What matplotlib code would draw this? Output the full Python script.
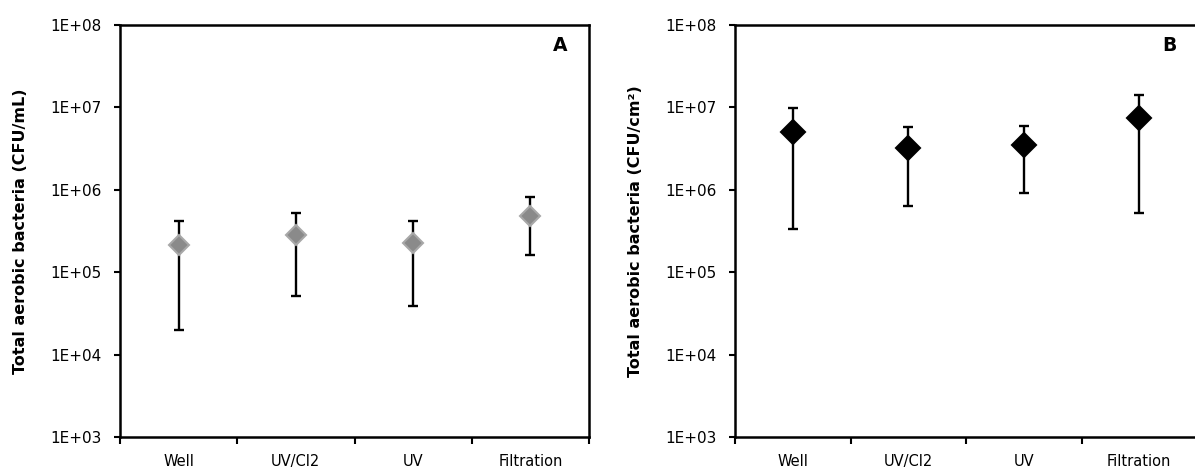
import matplotlib
matplotlib.use("Agg")
import matplotlib.pyplot as plt
import numpy as np

categories = ["Well", "UV/Cl2", "UV", "Filtration"]

# Panel A (water, CFU/mL)
a_mean = [2.16e5, 2.86e5, 2.24e5, 4.84e5]
a_upper = [4.2e5, 5.3e5, 4.2e5, 8.07e5]
a_lower = [2.0e4, 5.1e4, 3.85e4, 1.61e5]

# Panel B (surface, CFU/cm2)
b_mean = [4.99e6, 3.23e6, 3.45e6, 7.48e6]
b_upper = [9.78e6, 5.78e6, 5.94e6, 1.43e7]
b_lower = [3.37e5, 6.43e5, 9.05e5, 5.25e5]

yticks = [1e3, 1e4, 1e5, 1e6, 1e7, 1e8]
ytick_labels = ["1E+03", "1E+04", "1E+05", "1E+06", "1E+07", "1E+08"]

plt.rcParams['font.family'] = ['DejaVu Sans']

fig = plt.figure(figsize=(11.95, 4.68), dpi=100)
axA = fig.add_axes([120/1195, 1-437/468, (589-120)/1195, (437-25)/468])
axB = fig.add_axes([735/1195, 1-437/468, (1197-735)/1195, (437-25)/468])

def draw(ax, mean, upper, lower, mfc, mec, ylabel, letter, ms):
    x = np.arange(len(categories)) + 0.5
    mean = np.array(mean); upper = np.array(upper); lower = np.array(lower)
    yerr = np.vstack([mean - lower, upper - mean])
    ax.errorbar(x, mean, yerr=yerr, fmt='none', ecolor='black', elinewidth=1.7,
                capsize=3.6, capthick=1.7, zorder=2)
    ax.plot(x, mean, linestyle='none', marker='D', markersize=ms,
            markerfacecolor=mfc, markeredgecolor=mec, markeredgewidth=1.5, zorder=3)
    ax.set_yscale('log')
    ax.set_ylim(1e3, 1e8)
    ax.set_xlim(0, len(categories))
    ax.set_yticks(yticks)
    ax.set_yticklabels(ytick_labels)
    ax.yaxis.set_minor_locator(matplotlib.ticker.NullLocator())
    ax.set_xticks(np.arange(len(categories) + 1))
    ax.set_xticklabels([])
    ax.set_xticks(x, minor=True)
    ax.set_xticklabels(categories, minor=True)
    ax.tick_params(axis='x', which='major', direction='out', length=5, width=1.5)
    ax.tick_params(axis='x', which='minor', length=0, pad=12, labelsize=10.5)
    ax.tick_params(axis='y', which='major', direction='out', length=4.5, width=1.5,
                   labelsize=11, pad=9)
    for s in ax.spines.values():
        s.set_linewidth(1.8)
    ax.set_ylabel(ylabel, fontsize=11.5, fontweight='bold', labelpad=16)
    ax.text(0.955, 0.95, letter, transform=ax.transAxes, fontsize=13.5,
            fontweight='bold', ha='right', va='center')

draw(axA, a_mean, a_upper, a_lower, '#8a8a8a', '#a8a8a8',
     "Total aerobic bacteria (CFU/mL)", "A", 10)
draw(axB, b_mean, b_upper, b_lower, 'black', 'black',
     "Total aerobic bacteria (CFU/cm²)", "B", 12)

fig.savefig("out.png", dpi=100)
